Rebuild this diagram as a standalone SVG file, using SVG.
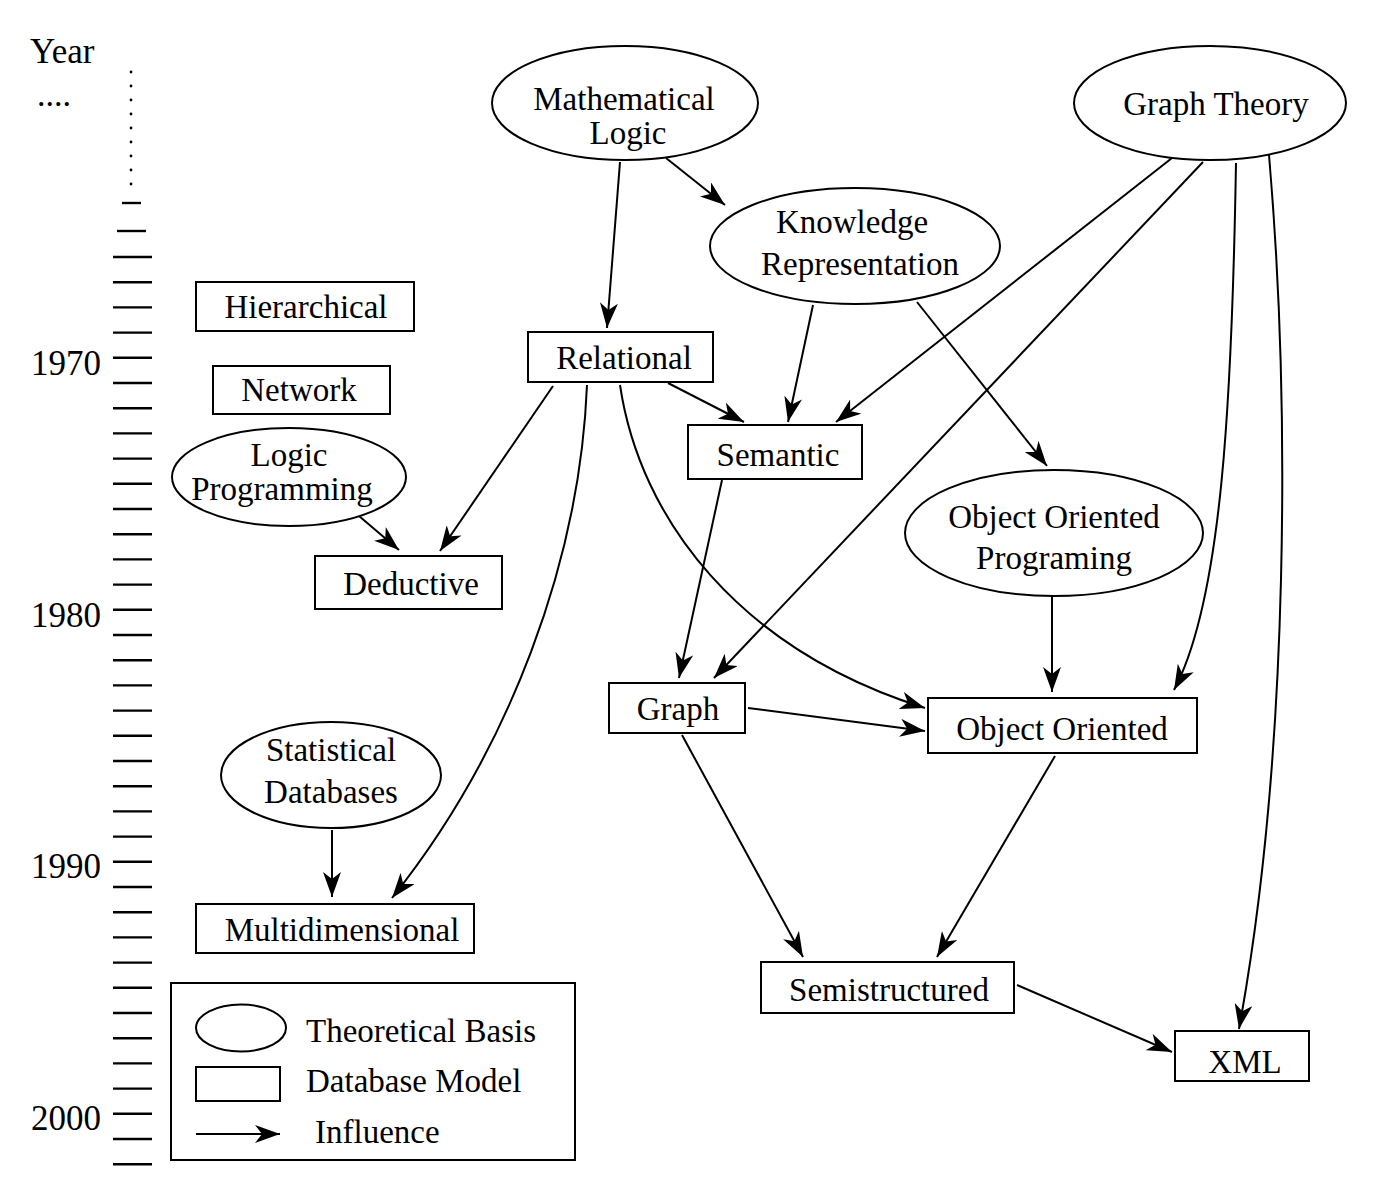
<svg xmlns="http://www.w3.org/2000/svg" width="1397" height="1192" viewBox="0 0 1397 1192">
<style>
text{font-family:"Liberation Serif","Times New Roman",serif;font-size:33px;fill:#000}
.c{text-anchor:middle}
.yr{font-size:35px;text-anchor:end}
.n{fill:#fff;stroke:#000;stroke-width:2}
.e{fill:none;stroke:#000;stroke-width:2;marker-end:url(#ah)}
.tk{stroke:#000;stroke-width:2.4}
</style>
<defs>
<marker id="ah" markerWidth="26" markerHeight="18" refX="25" refY="9" orient="auto" markerUnits="userSpaceOnUse" viewBox="0 0 26 18">
<path d="M0,0 L25,9 L0,18 L7,9 Z" fill="#000"/>
</marker>
</defs>
<rect width="1397" height="1192" fill="#fff"/>
<g id="timeline">
<text x="30" y="63" style="font-size:35px">Year</text>
<text x="37" y="106" style="font-size:34px">....</text>
<g fill="#000">
<circle cx="131" cy="72" r="1.4"/><circle cx="131" cy="86" r="1.4"/><circle cx="131" cy="100" r="1.4"/><circle cx="131" cy="114" r="1.4"/><circle cx="131" cy="128" r="1.4"/><circle cx="131" cy="142" r="1.4"/><circle cx="131" cy="156" r="1.4"/><circle cx="131" cy="170" r="1.4"/><circle cx="131" cy="184" r="1.4"/>
</g>
<line class="tk" x1="122" y1="203" x2="141" y2="203"/>
<line class="tk" x1="117" y1="231" x2="146" y2="231"/>
<path class="tk" d="M113,257H152M113,282.2H152M113,307.4H152M113,332.6H152M113,357.8H152M113,383H152M113,408.2H152M113,433.4H152M113,458.6H152M113,483.8H152M113,509H152M113,534.2H152M113,559.4H152M113,584.6H152M113,609.8H152M113,635H152M113,660.2H152M113,685.4H152M113,710.6H152M113,735.8H152M113,761H152M113,786.2H152M113,811.4H152M113,836.6H152M113,861.8H152M113,887H152M113,912.2H152M113,937.4H152M113,962.6H152M113,987.8H152M113,1013H152M113,1038.2H152M113,1063.4H152M113,1088.6H152M113,1113.8H152M113,1139H152M113,1164.2H152"/>
<text class="yr" x="101" y="375">1970</text>
<text class="yr" x="101" y="627">1980</text>
<text class="yr" x="101" y="878">1990</text>
<text class="yr" x="101" y="1130">2000</text>
</g>
<g id="connectors">
<line class="e" x1="620" y1="162" x2="607" y2="328"/>
<line class="e" x1="666" y1="158" x2="725" y2="205"/>
<line class="e" x1="813" y1="305" x2="788" y2="422"/>
<line class="e" x1="917" y1="302" x2="1047" y2="466"/>
<line class="e" x1="1172" y1="158" x2="836" y2="422"/>
<line class="e" x1="1203" y1="162" x2="714" y2="678"/>
<path class="e" d="M1236,163 C1232,400 1222,600 1174,690"/>
<path class="e" d="M1269,155 C1290,400 1290,750 1239,1029"/>
<line class="e" x1="668" y1="383" x2="744" y2="422"/>
<line class="e" x1="553" y1="386" x2="440" y2="551"/>
<path class="e" d="M587,385 C580,560 510,750 392,898"/>
<path class="e" d="M620,385 C640,520 740,650 925,708"/>
<line class="e" x1="359" y1="516" x2="399" y2="550"/>
<line class="e" x1="722" y1="480" x2="679" y2="678"/>
<line class="e" x1="1052" y1="596" x2="1052" y2="692"/>
<line class="e" x1="748" y1="708" x2="925" y2="731"/>
<line class="e" x1="682" y1="735" x2="803" y2="957"/>
<line class="e" x1="1055" y1="756" x2="937" y2="957"/>
<line class="e" x1="1017" y1="985" x2="1172" y2="1052"/>
<line class="e" x1="332" y1="830" x2="332" y2="897"/>
</g>
<g id="math-logic"><ellipse class="n" cx="625" cy="103" rx="133" ry="57"/><text class="c" x="624" y="110">Mathematical</text><text class="c" x="628" y="144">Logic</text></g>
<g id="graph-theory"><ellipse class="n" cx="1210" cy="103" rx="136" ry="57"/><text class="c" x="1216" y="115">Graph Theory</text></g>
<g id="knowledge-rep"><ellipse class="n" cx="855" cy="246" rx="145" ry="58"/><text class="c" x="852" y="233">Knowledge</text><text class="c" x="860" y="275">Representation</text></g>
<g id="hierarchical"><rect class="n" x="196" y="282" width="218" height="49"/><text class="c" x="306" y="318">Hierarchical</text></g>
<g id="network"><rect class="n" x="213" y="366" width="177" height="48"/><text class="c" x="299" y="401">Network</text></g>
<g id="relational"><rect class="n" x="528" y="332" width="185" height="50"/><text class="c" x="624" y="369">Relational</text></g>
<g id="semantic"><rect class="n" x="688" y="425" width="174" height="54"/><text class="c" x="778" y="466">Semantic</text></g>
<g id="logic-programming"><ellipse class="n" cx="289" cy="477" rx="117" ry="49"/><text class="c" x="289" y="466">Logic</text><text class="c" x="282" y="500">Programming</text></g>
<g id="deductive"><rect class="n" x="315" y="556" width="187" height="53"/><text class="c" x="411" y="595">Deductive</text></g>
<g id="oop"><ellipse class="n" cx="1054" cy="533" rx="149" ry="63"/><text class="c" x="1054" y="528">Object Oriented</text><text class="c" x="1054" y="569">Programing</text></g>
<g id="graph"><rect class="n" x="609" y="683" width="136" height="50"/><text class="c" x="678" y="720">Graph</text></g>
<g id="object-oriented"><rect class="n" x="928" y="698" width="269" height="55"/><text class="c" x="1062" y="740">Object Oriented</text></g>
<g id="statistical"><ellipse class="n" cx="331" cy="775" rx="110" ry="53"/><text class="c" x="331" y="761">Statistical</text><text class="c" x="331" y="803">Databases</text></g>
<g id="multidimensional"><rect class="n" x="196" y="904" width="278" height="49"/><text class="c" x="342" y="941">Multidimensional</text></g>
<g id="semistructured"><rect class="n" x="761" y="962" width="253" height="51"/><text class="c" x="889" y="1001">Semistructured</text></g>
<g id="xml"><rect class="n" x="1175" y="1031" width="134" height="50"/><text class="c" x="1245" y="1073">XML</text></g>
<g id="legend">
<rect class="n" x="171" y="983" width="404" height="177"/>
<ellipse class="n" cx="241" cy="1028" rx="45" ry="23.5"/>
<text x="306" y="1042">Theoretical Basis</text>
<rect class="n" x="196" y="1067" width="84" height="34"/>
<text x="306" y="1092">Database Model</text>
<line class="e" x1="196" y1="1134" x2="280" y2="1134"/>
<text x="315" y="1143">Influence</text>
</g>
</svg>
